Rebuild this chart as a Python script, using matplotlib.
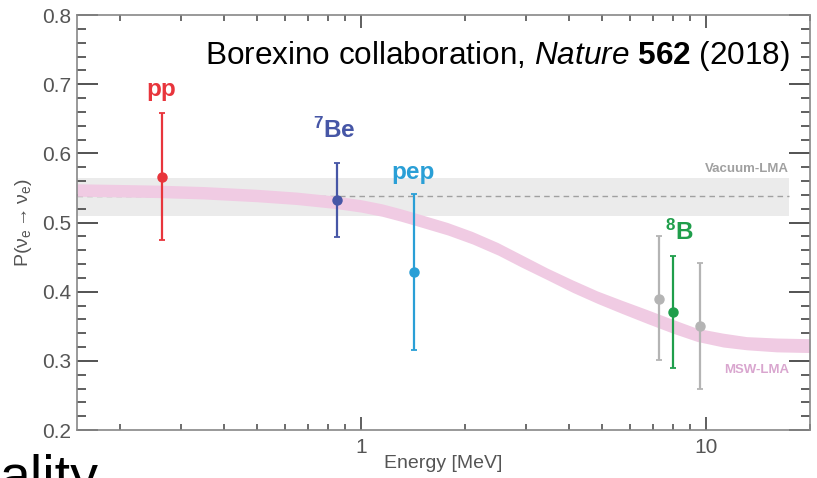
import matplotlib
matplotlib.use('Agg')
import matplotlib.pyplot as plt
from matplotlib.ticker import FixedLocator, NullFormatter, FixedFormatter, MultipleLocator

plt.rcParams['font.family'] = ['Liberation Sans', 'DejaVu Sans']
plt.rcParams['mathtext.fontset'] = 'custom'
plt.rcParams['mathtext.rm'] = 'Liberation Sans'
plt.rcParams['mathtext.it'] = 'Liberation Sans:italic'
plt.rcParams['mathtext.bf'] = 'Liberation Sans:bold'

# Borexino solar neutrino survival probabilities
flux_names = ['pp', r'$\mathbf{^7}$Be', 'pep', r'$\mathbf{^8}$B']
flux_energy = [0.264, 0.851, 1.42, 8.03]
flux_prob = [0.566, 0.532, 0.428, 0.370]
flux_err_hi = [0.093, 0.054, 0.113, 0.081]
flux_err_lo = [0.092, 0.053, 0.112, 0.080]
flux_colors = ['#e8353c', '#4656a6', '#2a9fd6', '#1f9e4b']

# 8B results from other energy thresholds (gray)
b8_energy = [7.3, 9.6]
b8_prob = [0.390, 0.351]
b8_err_hi = [0.091, 0.091]
b8_err_lo = [0.089, 0.091]

# MSW-LMA prediction band
msw_energy = [0.15, 0.2, 0.26, 0.35, 0.5, 0.65, 0.85, 1.0, 1.15, 1.3, 1.5, 1.78, 2.1,
              2.49, 2.9, 3.47, 4.1, 4.84, 5.7, 6.75, 8.0, 9.42, 11.2, 13.1, 16.0, 20.0]
msw_lo = [0.538, 0.537, 0.536, 0.534, 0.530, 0.526, 0.520, 0.515, 0.509, 0.502, 0.493,
          0.482, 0.469, 0.453, 0.436, 0.417, 0.399, 0.383, 0.3685, 0.354, 0.340, 0.328,
          0.320, 0.316, 0.313, 0.312]
msw_hi = [0.556, 0.555, 0.554, 0.552, 0.548, 0.544, 0.538, 0.533, 0.527, 0.520, 0.511,
          0.500, 0.487, 0.471, 0.454, 0.434, 0.417, 0.401, 0.3875, 0.374, 0.360, 0.347,
          0.340, 0.335, 0.333, 0.332]

# Vacuum-LMA prediction
vac_energy = [0.15, 17.4]
vac_center = 0.538
vac_lo = 0.510
vac_hi = 0.564

x_major = [1, 10]
x_minor = [0.2, 0.3, 0.4, 0.5, 0.6, 0.7, 0.8, 0.9, 2, 3, 4, 5, 6, 7, 8, 9, 20]

fig = plt.figure(figsize=(8.17, 4.78), dpi=100)
ax = fig.add_axes([0.0942, 0.1004, 0.8972, 0.8682])
ax.set_xscale('log')
ax.set_xlim(0.15, 20)
ax.set_ylim(0.2, 0.8)

# vacuum band + dashed centre line
ax.fill_between(vac_energy, [vac_lo] * 2, [vac_hi] * 2, color='#ebebeb', lw=0, zorder=1)
ax.plot(vac_energy, [vac_center] * 2, ls=(0, (4, 3)), color='#a0a0a0', lw=1.0, zorder=2)

# MSW band
ax.fill_between(msw_energy, msw_lo, msw_hi, color='#f0cbe3', lw=0, zorder=2)

ebar = dict(fmt='o', ms=6.5, elinewidth=1.6, capsize=2, capthick=1.3, zorder=4)
ax.errorbar(b8_energy, b8_prob, yerr=[b8_err_lo, b8_err_hi], color='#b4b4b4', **ebar)
for e, p, lo, hi, c in zip(flux_energy, flux_prob, flux_err_lo, flux_err_hi, flux_colors):
    ax.errorbar([e], [p], yerr=[[lo], [hi]], color=c, **ebar)

# flux labels
label_pos = [(0.264, 0.693), (0.834, 0.634), (1.41, 0.572), (8.34, 0.4865)]
for name, (lx, ly), c in zip(flux_names, label_pos, flux_colors):
    ax.text(lx, ly, name, color=c, fontsize=17.5, fontweight='bold',
            ha='center', va='center', zorder=5)

ax.text(17.4, 0.578, 'Vacuum-LMA', color='#a0a0a0', fontsize=9.5, fontweight='bold',
        ha='right', va='center')
ax.text(17.4, 0.287, 'MSW-LMA', color='#d9a6cf', fontsize=9.5, fontweight='bold',
        ha='right', va='center')

ax.text(0.972, 0.902, r'Borexino collaboration, $\mathit{Nature}$ $\mathbf{562}$ (2018)',
        transform=ax.transAxes, fontsize=22.7, color='black', ha='right', va='center')

# ticks
ax.xaxis.set_major_locator(FixedLocator(x_major))
ax.xaxis.set_major_formatter(FixedFormatter(['1', '10']))
ax.xaxis.set_minor_locator(FixedLocator(x_minor))
ax.xaxis.set_minor_formatter(NullFormatter())
ax.yaxis.set_major_locator(MultipleLocator(0.1))
ax.yaxis.set_minor_locator(MultipleLocator(0.02))

ax.tick_params(axis='both', which='both', direction='in', top=True, right=True,
               color='#444444', labelcolor='#555555', labelsize=15)
ax.tick_params(axis='y', which='major', length=15, width=1.3, pad=4)
ax.tick_params(axis='y', which='minor', length=6.5, width=1.2)
ax.tick_params(axis='x', which='major', length=9.5, width=1.2, pad=6)
ax.tick_params(axis='x', which='minor', length=4.5, width=1.1)
for s in ax.spines.values():
    s.set_color('#888888')
    s.set_linewidth(1.2)

ax.set_xlabel('Energy [MeV]', fontsize=14, color='#555555', labelpad=-2)
ax.set_ylabel(r'P($\mathrm{\nu_e \rightarrow \nu_e}$)', fontsize=14, color='#555555', labelpad=6)

# slide text running off the bottom edge
fig.text(0.0, 1 - 494 / 478, 'ality', fontsize=40, color='black', ha='left', va='baseline')

fig.savefig('out.png', dpi=100)
